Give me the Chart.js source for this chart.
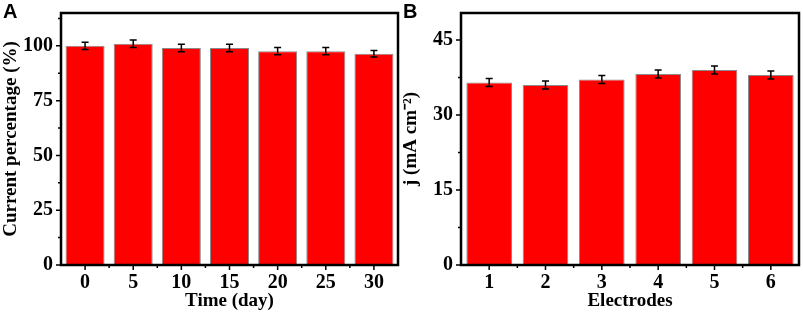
<!DOCTYPE html>
<html>
<head>
<meta charset="utf-8">
<script src="https://cdn.jsdelivr.net/npm/chart.js@4"></script>
<style>
  html, body { margin: 0; padding: 0; background: #fff; }
  #wrap { position: relative; width: 803px; height: 312px; overflow: hidden; }
  .panel { position: absolute; top: 0; height: 312px; }
  #panelA { left: 0; width: 400px; }
  #panelB { left: 400px; width: 403px; }
  .letter { position: absolute; top: 0; font: bold 20px "Liberation Sans", Arial, sans-serif; color: #000; }
</style>
</head>
<body>
<div id="wrap">
  <div class="panel" id="panelA"><canvas id="chartA"></canvas></div>
  <div class="panel" id="panelB"><canvas id="chartB"></canvas></div>
  <div class="letter" style="left:3px;">A</div>
  <div class="letter" style="left:403px;">B</div>
</div>
<script>
// ================= DATA =================
const days = ["0", "5", "10", "15", "20", "25", "30"];
const currentPct = [100, 101, 99, 99, 97.6, 97.6, 96.4];
const currentErr = [1.7, 1.7, 1.7, 1.7, 1.6, 1.6, 1.5];
const yTicksA = [0, 25, 50, 75, 100];

const electrodes = ["1", "2", "3", "4", "5", "6"];
const jValues = [36.5, 36.0, 37.1, 38.2, 39.0, 38.0];
const jErr = [0.8, 0.8, 0.8, 0.8, 0.8, 0.8];
const yTicksB = [0, 15, 30, 45];

// ================= STYLE =================
const serifBold = (size) => ({ family: "'Liberation Serif', 'Times New Roman', serif", size: size, weight: "bold" });

// error bars + frame + outward ticks
const decorPlugin = {
    id: "decor",
    afterDatasetsDraw(chart, args, opts) {
        const ctx = chart.ctx;
        const meta = chart.getDatasetMeta(0);
        const yScale = chart.scales.y;
        const vals = chart.data.datasets[0].data;
        ctx.save();
        ctx.strokeStyle = "#000";
        ctx.lineWidth = 1.5;
        meta.data.forEach((bar, i) => {
            const yTop = yScale.getPixelForValue(vals[i] + opts.err[i]);
            const yBot = yScale.getPixelForValue(vals[i] - opts.err[i]);
            ctx.beginPath();
            ctx.moveTo(bar.x, yTop); ctx.lineTo(bar.x, yBot);
            ctx.moveTo(bar.x - 3.5, yTop); ctx.lineTo(bar.x + 3.5, yTop);
            ctx.moveTo(bar.x - 3.5, yBot); ctx.lineTo(bar.x + 3.5, yBot);
            ctx.stroke();
        });
        ctx.restore();
    },
    afterDraw(chart, args, opts) {
        const ctx = chart.ctx;
        const a = chart.chartArea;
        const xScale = chart.scales.x;
        const yScale = chart.scales.y;
        ctx.save();
        ctx.strokeStyle = "#000";
        // ticks
        ctx.lineWidth = 1.5;
        ctx.beginPath();
        opts.ticks.forEach((v) => {
            const y = yScale.getPixelForValue(v);
            ctx.moveTo(a.left, y); ctx.lineTo(a.left - 5, y);
            const m = v + opts.step / 2;
            if (m < yScale.max) {
                const ym = yScale.getPixelForValue(m);
                ctx.moveTo(a.left, ym); ctx.lineTo(a.left - 3, ym);
            }
        });
        const n = chart.data.labels.length;
        for (let i = 0; i < n; i++) {
            const x = xScale.getPixelForValue(i);
            ctx.moveTo(x, a.bottom); ctx.lineTo(x, a.bottom + 5);
            if (i < n - 1) {
                const xm = (x + xScale.getPixelForValue(i + 1)) / 2;
                ctx.moveTo(xm, a.bottom); ctx.lineTo(xm, a.bottom + 3);
            }
        }
        ctx.stroke();
        // frame
        ctx.lineWidth = 2.5;
        ctx.strokeRect(a.left, a.top, a.right - a.left, a.bottom - a.top);
        ctx.restore();
    }
};

function makeChart(id, labels, values, errs, yTicks, yMax, step, xTitle, yTitle, rightPad) {
    return new Chart(document.getElementById(id), {
        type: "bar",
        data: {
            labels: labels,
            datasets: [{
                data: values,
                backgroundColor: "#ff0000",
                borderColor: "#8a8a8a",
                borderWidth: 1,
                barPercentage: 0.81,
                categoryPercentage: 1
            }]
        },
        options: {
            responsive: true,
            maintainAspectRatio: false,
            animation: false,
            layout: { padding: { top: 13, right: rightPad, left: 0, bottom: 0 } },
            plugins: {
                legend: { display: false },
                tooltip: { enabled: false },
                decor: { err: errs, ticks: yTicks, step: step }
            },
            scales: {
                x: {
                    offset: true,
                    grid: { display: false, drawTicks: false },
                    border: { display: false },
                    ticks: { color: "#000", font: serifBold(20), padding: 6, maxRotation: 0 },
                    title: { display: true, text: xTitle, color: "#000", font: serifBold(19), padding: 0 },
                    afterFit: (s) => { s.height = 47; s.paddingLeft = 0; s.paddingRight = 0; }
                },
                y: {
                    min: 0,
                    max: yMax,
                    grid: { display: false, drawTicks: false },
                    border: { display: false },
                    afterBuildTicks: (s) => { s.ticks = yTicks.map(v => ({ value: v })); },
                    ticks: { color: "#000", font: serifBold(20), padding: 8 },
                    title: { display: true, text: yTitle, color: "#000", font: serifBold(19), padding: 0 },
                    afterFit: (s) => { s.width = 61; s.paddingTop = 0; s.paddingBottom = 0; }
                }
            }
        },
        plugins: [decorPlugin]
    });
}

makeChart("chartA", days, currentPct, currentErr, yTicksA, 115, 25, "Time (day)", "Current percentage (%)", 2);
makeChart("chartB", electrodes, jValues, jErr, yTicksB, 50.4, 15, "Electrodes", "j (mA cm\u207B\u00B2)", 4);
</script>
</body>
</html>
